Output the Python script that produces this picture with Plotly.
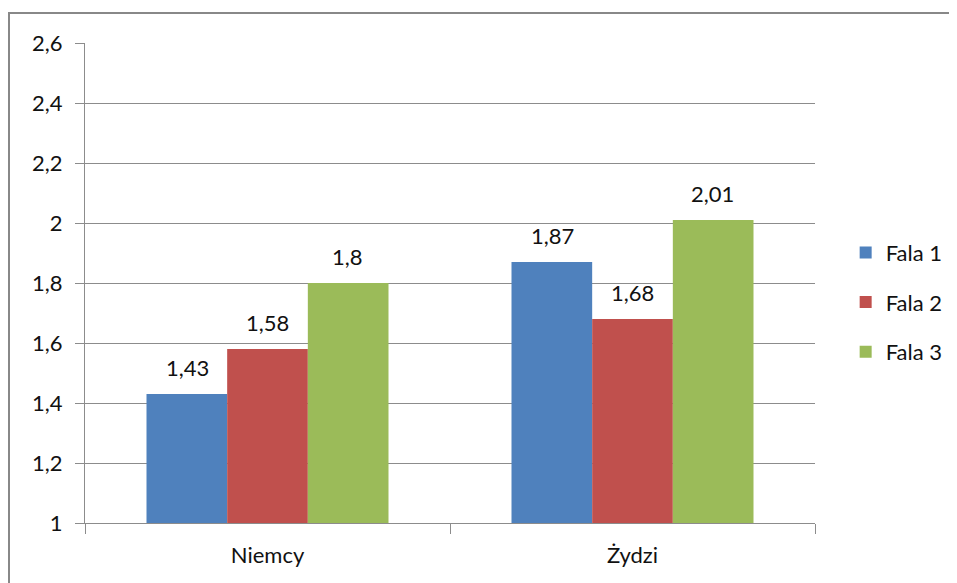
import plotly.graph_objects as go

categories = ["Niemcy", "Żydzi"]
series_names = ["Fala 1", "Fala 2", "Fala 3"]
fala1 = [1.43, 1.87]
fala2 = [1.58, 1.68]
fala3 = [1.80, 2.01]
values = [fala1, fala2, fala3]
colors = ["#4F81BD", "#C0504D", "#9BBB59"]
label_shift = [-80, 0, 80]

FONT = "Lato"
FS = 22
TXT = "#111111"
GRID = "#8c8c8c"

fig = go.Figure()
for i, (name, vals) in enumerate(zip(series_names, values)):
    fig.add_trace(go.Bar(
        x=categories, y=vals, name=name,
        marker=dict(color=colors[i], line=dict(width=0)),
        legendgroup=name,
    ))
    for c, v in zip(categories, vals):
        fig.add_annotation(
            x=c, y=v, text=f"{v:g}".replace(".", ","),
            xshift=label_shift[i], yshift=11, yanchor="bottom",
            showarrow=False, font=dict(family=FONT, size=FS, color=TXT),
        )

fig.update_layout(
    width=957, height=583,
    margin=dict(l=77, r=150, t=35, b=68),
    paper_bgcolor="white", plot_bgcolor="white",
    barmode="group", bargap=0.337, bargroupgap=0,
    separators=", ",
    font=dict(family=FONT, size=FS, color=TXT),
    showlegend=True,
    legend=dict(x=1.042, y=0.46, xanchor="left", yanchor="middle",
                font=dict(family=FONT, size=FS, color=TXT),
                tracegroupgap=18, itemwidth=30, bgcolor="rgba(0,0,0,0)"),
    xaxis=dict(showline=True, linecolor=GRID, linewidth=1,
               ticks="outside", ticklen=10, tickcolor=GRID,
               tickson="boundaries", showgrid=False, ticklabelstandoff=13,
               tickfont=dict(family=FONT, size=FS, color=TXT)),
    yaxis=dict(range=[1, 2.6], dtick=0.2, tick0=1,
               showline=True, linecolor=GRID, linewidth=1,
               ticks="outside", ticklen=9, tickcolor=GRID,
               showgrid=True, gridcolor=GRID, gridwidth=1,
               zeroline=False, tickformat=".1~f", ticklabelstandoff=8,
               tickfont=dict(family=FONT, size=FS, color=TXT)),
    shapes=[dict(type="rect", xref="paper", yref="paper",
                 x0=-0.1041, x1=1.3, y0=-0.3, y1=1.0625,
                 line=dict(color="#888888", width=2), layer="below")],
)
fig.write_html("out.html")
